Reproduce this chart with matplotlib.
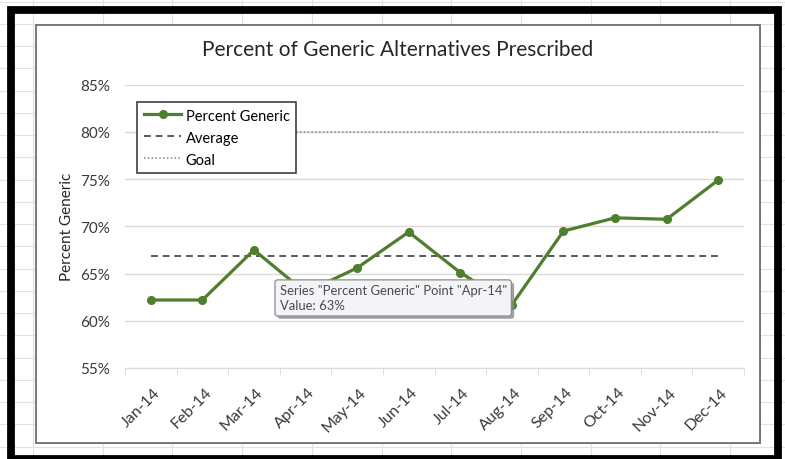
import numpy as np
import matplotlib
matplotlib.use('Agg')
import matplotlib.pyplot as plt
from matplotlib.patches import Rectangle
from matplotlib.transforms import ScaledTranslation
from matplotlib import patheffects as pe

plt.rcParams['font.family'] = ['Lato', 'DejaVu Sans']

# data
months = ['Jan-14', 'Feb-14', 'Mar-14', 'Apr-14', 'May-14', 'Jun-14',
          'Jul-14', 'Aug-14', 'Sep-14', 'Oct-14', 'Nov-14', 'Dec-14']
pct_generic = [62.2, 62.2, 67.5, 63.0, 65.6, 69.4, 65.1, 61.7, 69.5, 70.9, 70.75, 74.9]
average = [np.mean(pct_generic)] * len(months)
goal = [80.0] * len(months)
y_ticks = [55, 60, 65, 70, 75, 80, 85]
tip_point = 3  # Apr-14 hover tooltip

W, H = 785, 460
fig = plt.figure(figsize=(W / 100, H / 100), dpi=100)

# spreadsheet background + black frame (pixel coords)
bg = fig.add_axes([0, 0, 1, 1])
bg.set_xlim(0, W)
bg.set_ylim(H, 0)
bg.axis('off')
for gx in np.arange(33, W, 69.7):
    bg.plot([gx, gx], [0, H], color='#E1E1E1', lw=0.8, zorder=0.5)
for gy in np.arange(2.5, H, 22.25):
    bg.plot([0, W], [gy, gy], color='#E1E1E1', lw=0.8, zorder=0.5)
bg.add_patch(Rectangle((38, 28), 723, 417, fc='#BDBDBD', ec='none', zorder=2))
bg.add_patch(Rectangle((36, 26), 724, 418, fc='white', ec='#6E6E6E', lw=1.3, zorder=2.1))
bg.add_patch(Rectangle((11, 10.5), 767, 449, fill=False, ec='black', lw=5.6,
                       joinstyle='miter', zorder=3))

ax = fig.add_axes([125 / W, 1 - 369 / H, 619 / W, 283.3 / H])
x = np.arange(len(months))
green = '#4E7F2C'
ax.plot(x, average, color='#595959', lw=1.4, ls=(0, (3.5, 2.5)), label='Average', zorder=3)
ax.plot(x, goal, color='#7F7F7F', lw=1.1, ls=(0, (1, 1.5)), label='Goal', zorder=3)
ax.plot(x, pct_generic, color=green, lw=2.3, marker='o', ms=5.5, label='Percent Generic', zorder=4)

ax.set_xlim(-0.5, len(months) - 0.5)
ax.set_ylim(55, 85)
ax.set_yticks(y_ticks)
ax.set_yticklabels([f'{v}%' for v in y_ticks])
ax.set_xticks(x)
ax.set_xticklabels(months, rotation=45, ha='right', rotation_mode='anchor')
ax.set_xticks(np.arange(-0.5, len(months)), minor=True)
ax.tick_params(axis='x', which='major', length=0, pad=12, labelsize=11.5, labelcolor='#3A3A3A')
ax.tick_params(axis='x', which='minor', length=5, color='#D9D9D9')
ax.tick_params(axis='y', length=0, pad=11, labelsize=11, labelcolor='#3A3A3A')
shift = ScaledTranslation(2 / 100, 0, fig.dpi_scale_trans)
for lab in ax.get_xticklabels():
    lab.set_transform(lab.get_transform() + shift)
ax.grid(axis='y', color='#D9D9D9', lw=1)
ax.set_axisbelow(True)
for s in ['top', 'left', 'right']:
    ax.spines[s].set_visible(False)
ax.spines['bottom'].set_color('#D9D9D9')
ax.set_ylabel('Percent Generic', fontsize=11, color='#262626', labelpad=4)
fig.text(398 / W, 1 - 50 / H, 'Percent of Generic Alternatives Prescribed',
         fontsize=15, color='#262626', ha='center', va='center')

h, l = ax.get_legend_handles_labels()
order = [2, 0, 1]
leg = ax.legend([h[i] for i in order], [l[i] for i in order], loc='upper left',
                bbox_to_anchor=(0.0194, 0.939), borderaxespad=0, fancybox=False,
                fontsize=10.5, handlelength=2.6, handletextpad=0.3, labelspacing=0.55,
                borderpad=0.45, framealpha=1)
leg.get_frame().set_edgecolor('#404040')
leg.get_frame().set_linewidth(1.2)

# hover tooltip for Apr-14
tip = f'Series "Percent Generic" Point "{months[tip_point]}"\nValue: {pct_generic[tip_point]:.0f}%'
ann = ax.annotate(tip, (x[tip_point], pct_generic[tip_point]), xytext=(-26, 8),
                  textcoords='offset pixels', ha='left', va='top', fontsize=9.4, color='#4A4A4A',
                  annotation_clip=False, zorder=10, linespacing=1.3,
                  bbox=dict(boxstyle='round,pad=0.35,rounding_size=0.2', fc='#F3F4F8',
                            ec='#8C8C8C', lw=0.9))
ann.get_bbox_patch().set_path_effects([
    pe.SimplePatchShadow(offset=(2, -2), shadow_rgbFace='#8A8A8A', alpha=0.8), pe.Normal()])

fig.savefig('out.png', dpi=100)
